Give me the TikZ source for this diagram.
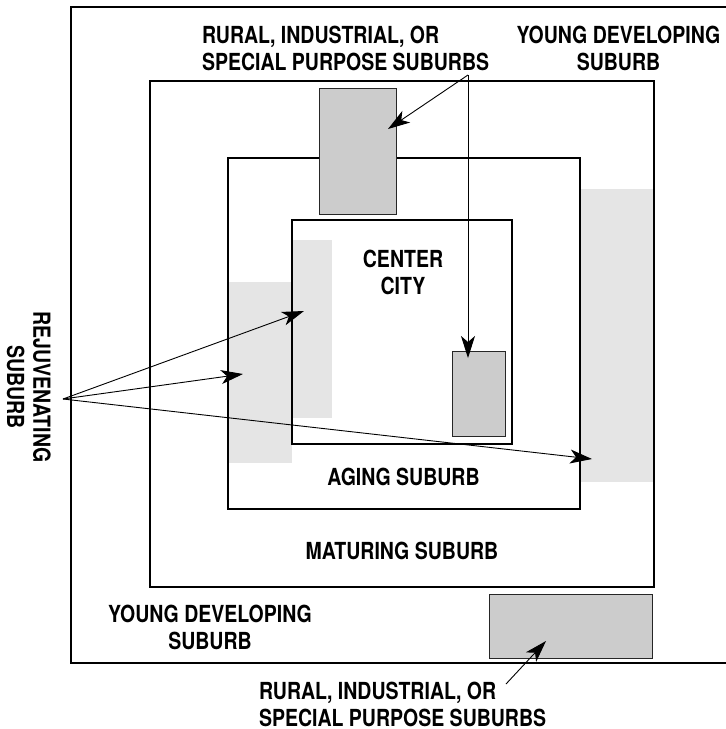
\documentclass[tikz,border=0pt]{standalone}
\usepackage{fontspec}
\setmainfont{TeX Gyre Heros}[FakeStretch=0.83]
\usetikzlibrary{arrows.meta}
\definecolor{darkfill}{HTML}{CCCCCC}
\definecolor{lightfill}{HTML}{E5E5E5}
\begin{document}
\begin{tikzpicture}[x=1pt,y=-1pt,
  ring/.style={draw=black, line width=1.1pt, inner sep=0pt, outer sep=0pt},
  lightzone/.style={fill=lightfill, draw=none, inner sep=0pt, outer sep=0pt},
  landuse/.style={fill=darkfill, draw=black!85, line width=1pt, inner sep=0pt, outer sep=0pt},
  pointer/.style={line width=0.9pt, -{Stealth[length=22pt,width=14pt,inset=6pt]}},
  label/.style={font=\bfseries\fontsize{23.5}{26.5}\selectfont, inner sep=0pt, outer sep=0pt}]
\useasboundingbox (0,0) rectangle (726,729);

% light-grey rejuvenating zones
\node[lightzone, minimum width=64pt, minimum height=181pt] (rejL) at (260,372.5) {};
\node[lightzone, minimum width=40pt, minimum height=178pt] (rejC) at (312,329) {};
\node[lightzone, minimum width=74pt, minimum height=293pt] (rejR) at (617,335.5) {};

% concentric rings
\draw[line width=1.1pt] (726,7) -- (71,7) -- (71,663) -- (726,663);
\node[ring, minimum width=504pt, minimum height=506pt] (maturing) at (402,334) {};
\node[ring, minimum width=352pt, minimum height=351pt] (aging) at (404,333.5) {};
\node[ring, minimum width=220pt, minimum height=224pt] (center) at (402,332) {};

% rural / industrial / special purpose pockets
\node[landuse, minimum width=77pt, minimum height=126pt] (lu1) at (357.5,151) {};
\node[landuse, minimum width=53pt, minimum height=85pt] (lu2) at (478.5,393.5) {};
\node[landuse, minimum width=163pt, minimum height=64pt] (lu3) at (570.5,626) {};

% labels (base anchor = baseline of the last line)
\node[label, align=left, anchor=base west] (ruralTop) at (202,70) {RURAL, INDUSTRIAL, OR\\SPECIAL PURPOSE SUBURBS};
\node[label, align=center, anchor=base] (youngTop) at (618.5,70) {YOUNG DEVELOPING\\SUBURB};
\node[label, align=center, anchor=base] (cityLbl) at (403,294) {CENTER\\CITY};
\node[label, anchor=base] (agingLbl) at (403.5,485) {AGING SUBURB};
\node[label, anchor=base] (maturingLbl) at (402,559) {MATURING SUBURB};
\node[label, align=center, anchor=base] (youngBot) at (210,649) {YOUNG DEVELOPING\\SUBURB};
\node[label, align=left, anchor=base west] (ruralBot) at (259,726) {RURAL, INDUSTRIAL, OR\\SPECIAL PURPOSE SUBURBS};
\node[label, align=center, anchor=base, rotate=-90] (rejLbl) at (7,387) {REJUVENATING\\SUBURB};

% connector end points
\coordinate (ruralTopTail) at (468,75);
\coordinate (lu1Tip) at (388,129);
\coordinate (lu2Tip) at (468,358);
\coordinate (ruralBotTail) at (506,684);
\coordinate (lu3Tip) at (546,641);
\coordinate (rejTail) at (63,399);
\coordinate (rejCTip) at (304,311);
\coordinate (rejLTip) at (243,374);
\coordinate (rejRTip) at (592,459);

% pointers
\draw[pointer] (ruralTopTail) -- (lu1Tip);
\draw[pointer] (ruralTopTail) -- (lu2Tip);
\draw[pointer] (ruralBotTail) -- (lu3Tip);
\draw[pointer] (rejTail) -- (rejCTip);
\draw[pointer] (rejTail) -- (rejLTip);
\draw[pointer] (rejTail) -- (rejRTip);
\end{tikzpicture}
\end{document}
